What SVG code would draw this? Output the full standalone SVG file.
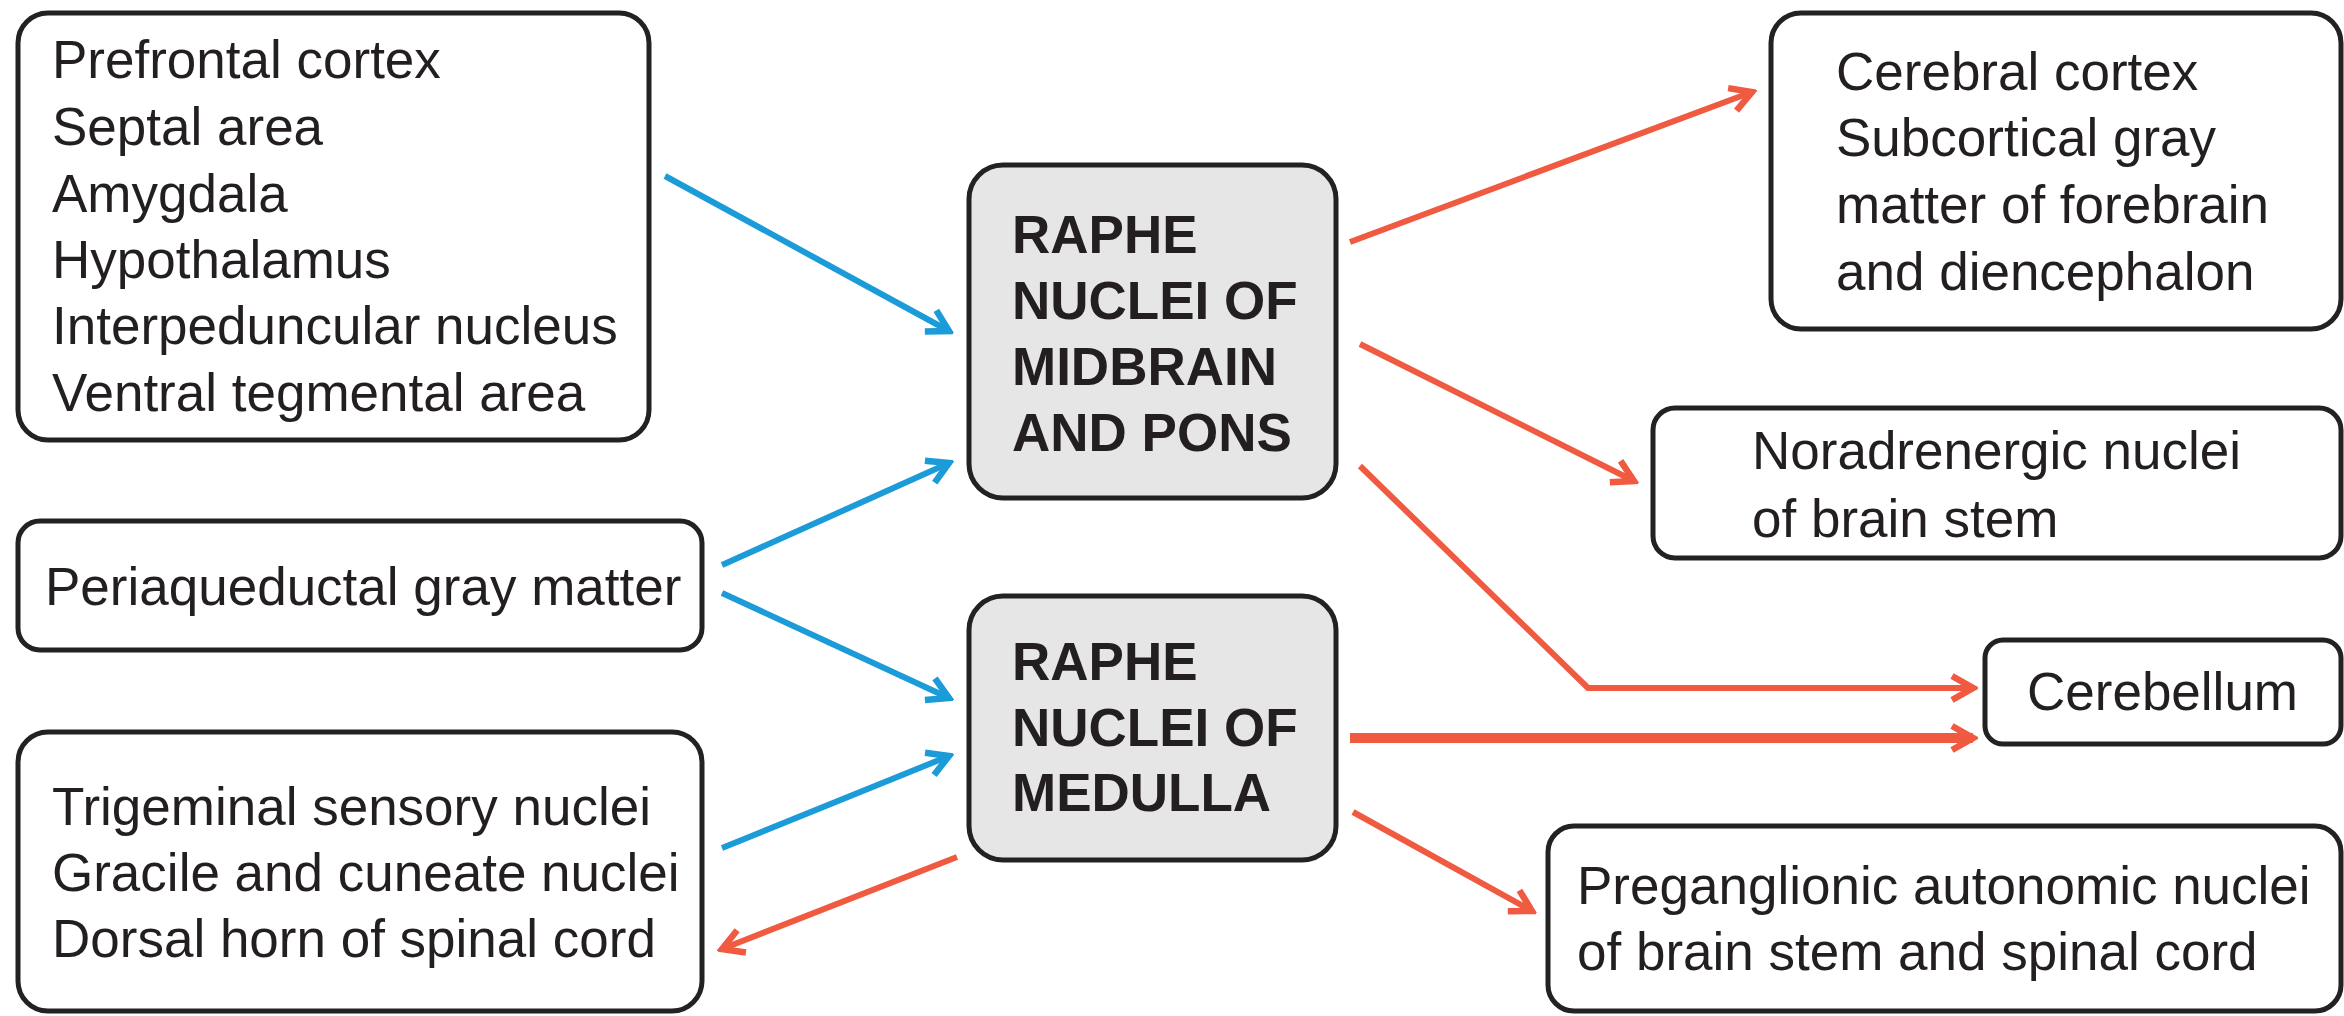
<svg xmlns="http://www.w3.org/2000/svg" width="2344" height="1016" viewBox="0 0 2344 1016">
  <style>
    .box { fill: #ffffff; stroke: #222222; stroke-width: 5; }
    .core { fill: #e6e6e6; stroke: #222222; stroke-width: 5; }
    .lbl { font-family: "Liberation Sans", Arial, sans-serif; font-size: 53px; fill: #231f20; }
    .bold { font-weight: bold; }
    .in { fill: none; stroke: #1b9bd7; stroke-width: 6; marker-end: url(#headBlue); }
    .out { fill: none; stroke: #ef5a40; stroke-width: 6; marker-end: url(#headRed); }
    .thick { stroke-width: 10; }
  </style>
  <defs>
    <marker id="headBlue" viewBox="0 0 32 32" refX="27" refY="16" markerWidth="32" markerHeight="32" markerUnits="userSpaceOnUse" orient="auto">
      <path d="M6,4 L27,16 L6,28" fill="none" stroke="#1b9bd7" stroke-width="6.5" stroke-linejoin="miter"/>
    </marker>
    <marker id="headRed" viewBox="0 0 32 32" refX="27" refY="16" markerWidth="32" markerHeight="32" markerUnits="userSpaceOnUse" orient="auto">
      <path d="M6,4 L27,16 L6,28" fill="none" stroke="#ef5a40" stroke-width="6.5" stroke-linejoin="miter"/>
    </marker>
  </defs>

  <rect width="2344" height="1016" fill="#ffffff"/>

  <!-- afferent sources -->
  <g id="forebrain-inputs">
    <rect class="box" x="18" y="13" width="631" height="427" rx="30"/>
    <text class="lbl" x="52" y="78">Prefrontal cortex</text>
    <text class="lbl" x="52" y="145">Septal area</text>
    <text class="lbl" x="52" y="212">Amygdala</text>
    <text class="lbl" x="52" y="278">Hypothalamus</text>
    <text class="lbl" x="52" y="344">Interpeduncular nucleus</text>
    <text class="lbl" x="52" y="411">Ventral tegmental area</text>
  </g>
  <g id="periaqueductal">
    <rect class="box" x="18" y="521" width="684" height="129" rx="22"/>
    <text class="lbl" x="45" y="605">Periaqueductal gray matter</text>
  </g>
  <g id="sensory-nuclei">
    <rect class="box" x="18" y="732" width="684" height="279" rx="30"/>
    <text class="lbl" x="52" y="825">Trigeminal sensory nuclei</text>
    <text class="lbl" x="52" y="891">Gracile and cuneate nuclei</text>
    <text class="lbl" x="52" y="957">Dorsal horn of spinal cord</text>
  </g>

  <!-- raphe nuclei -->
  <g id="raphe-midbrain-pons">
    <rect class="core" x="969" y="165" width="367" height="333" rx="34"/>
    <text class="lbl bold" x="1012" y="253">RAPHE</text>
    <text class="lbl bold" x="1012" y="319">NUCLEI OF</text>
    <text class="lbl bold" x="1012" y="385">MIDBRAIN</text>
    <text class="lbl bold" x="1012" y="451">AND PONS</text>
  </g>
  <g id="raphe-medulla">
    <rect class="core" x="969" y="596" width="367" height="264" rx="34"/>
    <text class="lbl bold" x="1012" y="680">RAPHE</text>
    <text class="lbl bold" x="1012" y="746">NUCLEI OF</text>
    <text class="lbl bold" x="1012" y="811">MEDULLA</text>
  </g>

  <!-- efferent targets -->
  <g id="cortex-targets">
    <rect class="box" x="1771" y="13" width="570" height="316" rx="30"/>
    <text class="lbl" x="1836" y="90">Cerebral cortex</text>
    <text class="lbl" x="1836" y="156">Subcortical gray</text>
    <text class="lbl" x="1836" y="223">matter of forebrain</text>
    <text class="lbl" x="1836" y="290">and diencephalon</text>
  </g>
  <g id="noradrenergic">
    <rect class="box" x="1653" y="408" width="688" height="150" rx="22"/>
    <text class="lbl" x="1752" y="469">Noradrenergic nuclei</text>
    <text class="lbl" x="1752" y="537">of brain stem</text>
  </g>
  <g id="cerebellum">
    <rect class="box" x="1985" y="640" width="356" height="104" rx="18"/>
    <text class="lbl" x="2027" y="710">Cerebellum</text>
  </g>
  <g id="preganglionic">
    <rect class="box" x="1548" y="826" width="793" height="185" rx="26"/>
    <text class="lbl" x="1577" y="904">Preganglionic autonomic nuclei</text>
    <text class="lbl" x="1577" y="970">of brain stem and spinal cord</text>
  </g>

  <!-- projections -->
  <g id="connectors">
    <line class="in" x1="665" y1="176" x2="949" y2="331"/>
    <line class="in" x1="722" y1="565" x2="949" y2="463"/>
    <line class="in" x1="722" y1="593" x2="949" y2="698"/>
    <line class="in" x1="722" y1="848" x2="949" y2="756"/>

    <line class="out" x1="1350" y1="242" x2="1752" y2="92"/>
    <line class="out" x1="1360" y1="344" x2="1634" y2="481"/>
    <polyline class="out" points="1360,466 1588,688 1973,688"/>
    <line class="out thick" x1="1350" y1="738" x2="1973" y2="738"/>
    <line class="out" x1="1353" y1="812" x2="1532" y2="911"/>
    <line class="out" x1="957" y1="857" x2="722" y2="949"/>
  </g>
</svg>
